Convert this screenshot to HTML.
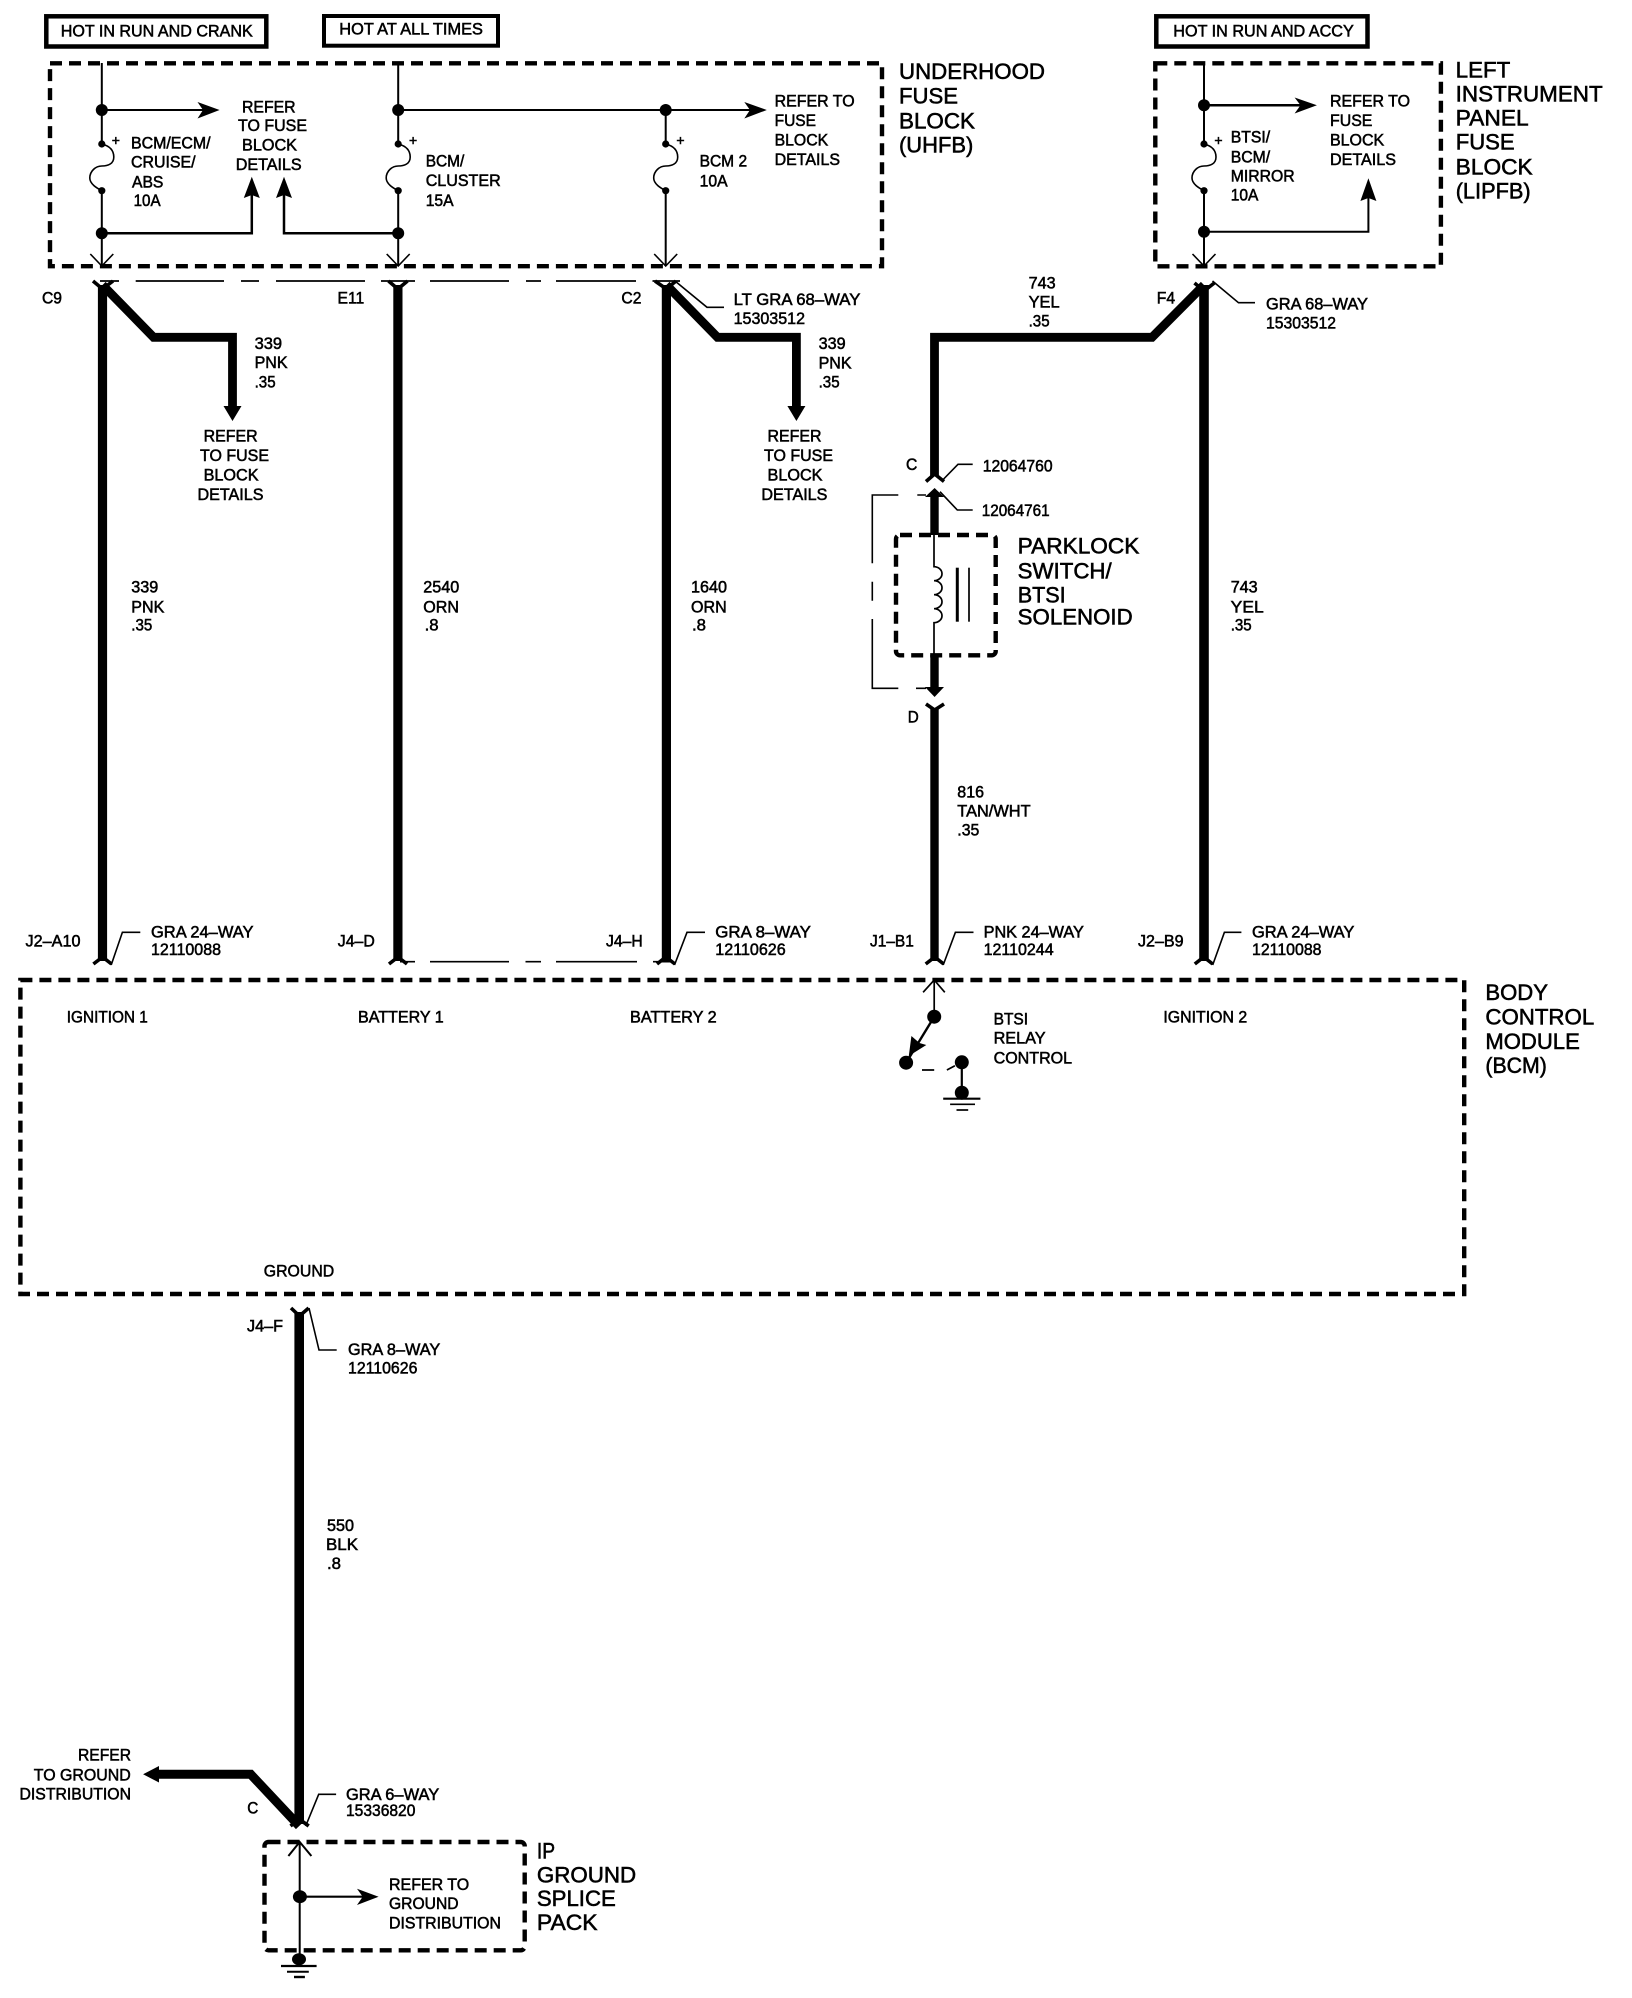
<!DOCTYPE html>
<html><head><meta charset="utf-8"><title>Wiring diagram</title>
<style>
html,body{margin:0;padding:0;background:#fff}
svg{display:block}
text{font-family:"Liberation Sans",sans-serif;fill:#000;stroke:#000;stroke-width:.55px}
.s{font-size:17px}
.l{font-size:22px}
.p{font-size:14px}
</style></head><body>
<svg xmlns="http://www.w3.org/2000/svg" width="1632" height="1998" viewBox="0 0 1632 1998">
<defs>
<g id="fuse"><circle cx="0" cy="144" r="3.6" fill="#000"/><circle cx="0" cy="190.7" r="3.6" fill="#000"/><path d="M0 144C8 146 12 150 12 157C12 164 6 166 0 166C-6 166 -12 171 -12 178C-12 184 -5 188 0 190.7" fill="none" stroke="#000" stroke-width="1.6"/></g>
<path id="chev" d="M-11.5 254L0 266L11.5 254" fill="none" stroke="#000" stroke-width="1.6"/>
</defs>
<rect width="1632" height="1998" fill="#fff"/>

<!-- label boxes -->
<g fill="none" stroke="#000">
<rect x="46.3" y="16.3" width="220" height="30.2" stroke-width="4.5"/>
<rect x="324" y="16" width="174" height="29.7" stroke-width="4"/>
<rect x="1156.3" y="16.3" width="211.2" height="30.2" stroke-width="4.5"/>
<!-- dashed boxes -->
<g stroke-width="4.4" stroke-dasharray="12 7">
<rect x="50" y="63.3" width="832" height="202.9"/>
<rect x="1155.3" y="63.3" width="285.6" height="203"/>
<rect x="896" y="535" width="99.7" height="120.3" rx="4"/>
<rect x="20.4" y="980" width="1443.8" height="314"/>
<rect x="264.5" y="1842" width="260.2" height="108.3" rx="4"/>
</g>
</g>

<!-- UHFB internals -->
<g fill="none" stroke="#000" stroke-width="2">
<path d="M101.8 63V266M398.2 63V266M665.7 110V266M1204 63V266"/>
<path d="M101.8 110H205M398.2 110H755"/>
<path d="M101.8 233.3H251.8V190M398.2 233.3H284V190" stroke-width="2.5"/>
<path d="M1204 105.3H1303" stroke-width="2.5"/>
<path d="M1204 231.7H1368.4V195"/>
</g>
<g fill="#fff" stroke="none">
<rect x="96" y="146" width="12" height="43"/><rect x="392" y="146" width="12" height="43"/><rect x="660" y="146" width="12" height="43"/><rect x="1198" y="146" width="12" height="43"/>
</g>
<use href="#fuse" x="101.8"/><use href="#fuse" x="398.2"/><use href="#fuse" x="665.7"/><use href="#fuse" x="1204"/>
<use href="#chev" x="101.8"/><use href="#chev" x="398.2"/><use href="#chev" x="665.7"/><use href="#chev" x="1204"/>
<g fill="#000">
<circle cx="101.8" cy="110" r="6"/><circle cx="398.2" cy="110" r="6"/><circle cx="665.7" cy="110" r="6"/>
<circle cx="101.8" cy="233.3" r="6"/><circle cx="398.2" cy="233.3" r="6"/>
<circle cx="1204" cy="105.3" r="6"/><circle cx="1204" cy="231.7" r="6"/>
<polygon points="219.6,110 197.5,102 203,110 197.5,118.5"/>
<polygon points="766.8,110 744.3,102 750,110 744.3,118.5"/>
<polygon points="1316.9,105.3 1294.6,97.5 1300.5,105.3 1294.6,113.5"/>
<polygon points="251.8,176.7 243.8,198 251.8,195 259.8,198"/>
<polygon points="284,176.7 276,198 284,195 292,198"/>
<polygon points="1368.4,178.3 1360.4,201 1368.4,198 1376.4,201"/>
</g>

<!-- thin dashed connector lines -->
<path d="M100 281H119M135.7 281H224M241 281H259M276 281H365M381 281H415M430 281H509M526 281H541M556 281H636M652.5 281H680" fill="none" stroke="#000" stroke-width="1.7"/>
<path d="M400 961.7H415M430 961.7H509M525.5 961.7H541M556 961.7H637M653 961.7H670" fill="none" stroke="#000" stroke-width="1.7"/>

<!-- thick wires -->
<g fill="none" stroke="#000" stroke-width="9.2">
<path d="M102.5 285V961M397.9 285V961M666.4 285V961"/>
<path d="M102.5 285L153.6 337.3H232.5V408" stroke-width="8.8"/>
<path d="M666.4 285L717.5 337.3H796.4V408" stroke-width="8.8"/>
<path d="M934.5 476V337.3H1152L1204 285" stroke-width="8.8"/>
<path d="M1204 285V961" stroke-width="9.6"/>
<path d="M934.5 494V535M934.5 655V690M934.5 708V961" stroke-width="8.4"/>
<path d="M299.2 1312V1824" stroke-width="9.6"/>
<path d="M299.2 1826L250.7 1774.3H157" stroke-width="9"/>
</g>
<g fill="#000">
<polygon points="232.5,421 223.5,406 241.5,406"/>
<polygon points="796.4,421 787.4,406 805.4,406"/>
<polygon points="143.1,1774.3 159,1766 159,1782.5"/>
<polygon points="934.6,488 925,497 944,497"/>
<polygon points="934.6,697 925,687 944,687"/>
</g>

<!-- connector terminals -->
<g fill="none" stroke="#000" stroke-width="3.6">
<path d="M93 281L102.5 289L113 281"/>
<path d="M388.5 281L397.9 289L407.5 281"/>
<path d="M655 281L666.4 289L676 281"/>
<path d="M1194.5 283L1204 291L1214.3 283"/>
<path d="M926 481.5L934.6 474L944 481.5"/>
<path d="M926 704L934.6 710L944 704"/>
<path d="M93.4 964L102.6 957L111.5 964"/>
<path d="M389 964L398 957L407 964"/>
<path d="M657 964L665.8 957L675 964"/>
<path d="M925.7 964L934.7 957L943.7 964"/>
<path d="M1194.8 964L1203.7 957L1212.7 964"/>
<path d="M291 1308L299.5 1316L308.7 1308"/>
<path d="M290.5 1826L299.2 1819L308.7 1826"/>
</g>

<!-- leaders -->
<g fill="none" stroke="#000" stroke-width="1.6">
<path d="M675 281L707 307.3H724"/>
<path d="M1212.5 281L1238.5 302.7H1255"/>
<path d="M941.7 481L958 464.3H972.7"/>
<path d="M940 491.7L957.3 510H972.7"/>
<path d="M111.2 965L122.4 932.3H140.3"/>
<path d="M674.5 965L687 932.3H705"/>
<path d="M943.2 965L955.4 932.3H973.5"/>
<path d="M1212.7 965L1224.4 932.3H1241.4"/>
<path d="M309 1308L319 1350H336.7"/>
<path d="M305.7 1826L318.7 1794.3H336.1"/>
<path d="M898.3 495H872.3V563.3M872.3 581.7V600.7M872.3 619V688.3H898.3M917.3 495H926M916 688.3H926"/>
</g>

<!-- solenoid -->
<g fill="none" stroke="#000" stroke-width="1.7">
<path d="M934 535V566.7A8 7 0 0 1 934 580.7A8 7 0 0 1 934 594.7A8 7 0 0 1 934 608.7A8 7 0 0 1 934 622.7V655"/>
<path d="M957.3 567.7V621.7" stroke-width="3"/>
<path d="M969 567.7V621.7"/>
</g>

<!-- BCM relay -->
<g fill="none" stroke="#000" stroke-width="1.7">
<path d="M923.1 992.3L934.2 980L944.8 992.3M934.2 980V1012"/>
<path d="M934.2 1016.7L906.1 1062.7" stroke-width="2.4"/>
<path d="M922 1070H934.2M946.9 1070L954.9 1065.7"/>
<path d="M961.8 1062V1093" stroke-width="2.2"/>
<path d="M943.2 1098.7H980.4" stroke-width="2.2"/>
<path d="M950.1 1104.3H975"/>
<path d="M956.5 1110H968.2"/>
</g>
<g fill="#000">
<circle cx="934.2" cy="1016.7" r="7"/><circle cx="906.1" cy="1062.7" r="7"/>
<circle cx="961.8" cy="1062.3" r="7"/><circle cx="961.8" cy="1092.7" r="7"/>
<polygon points="908.8,1056 911.4,1036 919.5,1043 926.3,1045"/>
</g>

<!-- IP ground -->
<g fill="none" stroke="#000" stroke-width="2">
<path d="M288.4 1856L299.7 1842L311.4 1856M299.7 1842V1955"/>
<path d="M299.9 1896.7H363" stroke-width="2.2"/>
<path d="M281 1966H316.6" stroke-width="2.2"/>
<path d="M287 1971.7H308.8"/>
<path d="M294 1977H304.9" stroke-width="2.4"/>
</g>
<g fill="#000">
<ellipse cx="299.9" cy="1896.7" rx="7" ry="6.5"/>
<ellipse cx="299" cy="1959.3" rx="7" ry="6"/>
<polygon points="378.6,1896.7 357,1888.7 362.7,1896.7 357,1905"/>
</g>

<!-- plus signs -->
<g>
<text class="p" x="111.7" y="145">+</text>
<text class="p" x="409" y="145">+</text>
<text class="p" x="676.4" y="145">+</text>
<text class="p" x="1214.4" y="145">+</text>
</g>

<!-- small text -->
<g class="s">
<text x="60.7" y="36.7" textLength="192" lengthAdjust="spacingAndGlyphs">HOT IN RUN AND CRANK</text>
<text x="339.3" y="34.7" textLength="143.6" lengthAdjust="spacingAndGlyphs">HOT AT ALL TIMES</text>
<text x="1173.3" y="36.7" textLength="180.5" lengthAdjust="spacingAndGlyphs">HOT IN RUN AND ACCY</text>

<text x="131" y="148.7" textLength="79.6" lengthAdjust="spacingAndGlyphs">BCM/ECM/</text>
<text x="131" y="167.7" textLength="64.6" lengthAdjust="spacingAndGlyphs">CRUISE/</text>
<text x="132" y="187.3" textLength="31.4" lengthAdjust="spacingAndGlyphs">ABS</text>
<text x="133.6" y="206" textLength="27" lengthAdjust="spacingAndGlyphs">10A</text>

<text x="242" y="112.7" textLength="53.6" lengthAdjust="spacingAndGlyphs">REFER</text>
<text x="238" y="131" textLength="69" lengthAdjust="spacingAndGlyphs">TO FUSE</text>
<text x="242" y="150.7" textLength="55" lengthAdjust="spacingAndGlyphs">BLOCK</text>
<text x="235.7" y="170" textLength="66" lengthAdjust="spacingAndGlyphs">DETAILS</text>

<text x="425.7" y="166.7" textLength="38.6" lengthAdjust="spacingAndGlyphs">BCM/</text>
<text x="425.7" y="186" textLength="75" lengthAdjust="spacingAndGlyphs">CLUSTER</text>
<text x="425.7" y="206" textLength="27.9" lengthAdjust="spacingAndGlyphs">15A</text>

<text x="699.6" y="166.7" textLength="47.5" lengthAdjust="spacingAndGlyphs">BCM 2</text>
<text x="699.6" y="186.7" textLength="28" lengthAdjust="spacingAndGlyphs">10A</text>

<text x="774.6" y="106.7" textLength="80" lengthAdjust="spacingAndGlyphs">REFER TO</text>
<text x="774.6" y="126" textLength="41.4" lengthAdjust="spacingAndGlyphs">FUSE</text>
<text x="774.6" y="145.3" textLength="53.6" lengthAdjust="spacingAndGlyphs">BLOCK</text>
<text x="774.6" y="165" textLength="65.4" lengthAdjust="spacingAndGlyphs">DETAILS</text>

<text x="1230.7" y="142.7" textLength="39.4" lengthAdjust="spacingAndGlyphs">BTSI/</text>
<text x="1230.7" y="162.3" textLength="39.4" lengthAdjust="spacingAndGlyphs">BCM/</text>
<text x="1230.7" y="181.7" textLength="64" lengthAdjust="spacingAndGlyphs">MIRROR</text>
<text x="1230.7" y="200.7" textLength="27.6" lengthAdjust="spacingAndGlyphs">10A</text>

<text x="1330" y="106.7" textLength="80" lengthAdjust="spacingAndGlyphs">REFER TO</text>
<text x="1330" y="126" textLength="42.4" lengthAdjust="spacingAndGlyphs">FUSE</text>
<text x="1330" y="145.3" textLength="54.2" lengthAdjust="spacingAndGlyphs">BLOCK</text>
<text x="1330" y="165" textLength="66" lengthAdjust="spacingAndGlyphs">DETAILS</text>

<text x="42" y="303.3" textLength="20" lengthAdjust="spacingAndGlyphs">C9</text>
<text x="337.5" y="303.3" textLength="26.8" lengthAdjust="spacingAndGlyphs">E11</text>
<text x="621.4" y="303.3" textLength="20" lengthAdjust="spacingAndGlyphs">C2</text>
<text x="1156.8" y="303.3" textLength="18.3" lengthAdjust="spacingAndGlyphs">F4</text>

<text x="733.6" y="305" textLength="126.8" lengthAdjust="spacingAndGlyphs">LT GRA 68–WAY</text>
<text x="733.6" y="324" textLength="71.4" lengthAdjust="spacingAndGlyphs">15303512</text>
<text x="1266" y="309.3" textLength="102" lengthAdjust="spacingAndGlyphs">GRA 68–WAY</text>
<text x="1266" y="328.3" textLength="70" lengthAdjust="spacingAndGlyphs">15303512</text>

<text x="254.6" y="349" textLength="27.5" lengthAdjust="spacingAndGlyphs">339</text>
<text x="254.6" y="368" textLength="33" lengthAdjust="spacingAndGlyphs">PNK</text>
<text x="254.6" y="387.3" textLength="21" lengthAdjust="spacingAndGlyphs">.35</text>

<text x="818.6" y="349" textLength="27" lengthAdjust="spacingAndGlyphs">339</text>
<text x="818.6" y="368.7" textLength="33" lengthAdjust="spacingAndGlyphs">PNK</text>
<text x="818.6" y="387.3" textLength="21" lengthAdjust="spacingAndGlyphs">.35</text>

<text x="1028.6" y="288.7" textLength="27" lengthAdjust="spacingAndGlyphs">743</text>
<text x="1028.6" y="307.7" textLength="31" lengthAdjust="spacingAndGlyphs">YEL</text>
<text x="1028.6" y="326.7" textLength="21" lengthAdjust="spacingAndGlyphs">.35</text>

<text x="203.6" y="441.7" textLength="54" lengthAdjust="spacingAndGlyphs">REFER</text>
<text x="200" y="461" textLength="69" lengthAdjust="spacingAndGlyphs">TO FUSE</text>
<text x="203.6" y="480.3" textLength="55" lengthAdjust="spacingAndGlyphs">BLOCK</text>
<text x="197.5" y="500" textLength="66" lengthAdjust="spacingAndGlyphs">DETAILS</text>

<text x="767.5" y="441.7" textLength="54" lengthAdjust="spacingAndGlyphs">REFER</text>
<text x="764" y="461" textLength="69" lengthAdjust="spacingAndGlyphs">TO FUSE</text>
<text x="767.5" y="480.3" textLength="55" lengthAdjust="spacingAndGlyphs">BLOCK</text>
<text x="761.4" y="500" textLength="66" lengthAdjust="spacingAndGlyphs">DETAILS</text>

<text x="906" y="470" textLength="11.3" lengthAdjust="spacingAndGlyphs">C</text>
<text x="982.7" y="471.7" textLength="70" lengthAdjust="spacingAndGlyphs">12064760</text>
<text x="981.7" y="516" textLength="68" lengthAdjust="spacingAndGlyphs">12064761</text>
<text x="907.7" y="722.7" textLength="11" lengthAdjust="spacingAndGlyphs">D</text>

<text x="131.3" y="592.7" textLength="27" lengthAdjust="spacingAndGlyphs">339</text>
<text x="131.3" y="612.3" textLength="33" lengthAdjust="spacingAndGlyphs">PNK</text>
<text x="131.3" y="630.7" textLength="21" lengthAdjust="spacingAndGlyphs">.35</text>
<text x="423.3" y="592.7" textLength="36" lengthAdjust="spacingAndGlyphs">2540</text>
<text x="423.3" y="612.3" textLength="35.7" lengthAdjust="spacingAndGlyphs">ORN</text>
<text x="424.6" y="630.7" textLength="14" lengthAdjust="spacingAndGlyphs">.8</text>
<text x="691" y="592.7" textLength="36" lengthAdjust="spacingAndGlyphs">1640</text>
<text x="691" y="612.3" textLength="35.7" lengthAdjust="spacingAndGlyphs">ORN</text>
<text x="692" y="630.7" textLength="14" lengthAdjust="spacingAndGlyphs">.8</text>
<text x="1230.7" y="592.7" textLength="27" lengthAdjust="spacingAndGlyphs">743</text>
<text x="1230.7" y="612.3" textLength="33" lengthAdjust="spacingAndGlyphs">YEL</text>
<text x="1230.7" y="630.7" textLength="21" lengthAdjust="spacingAndGlyphs">.35</text>

<text x="957.3" y="797.3" textLength="26.7" lengthAdjust="spacingAndGlyphs">816</text>
<text x="957.3" y="816.7" textLength="73.3" lengthAdjust="spacingAndGlyphs">TAN/WHT</text>
<text x="957.3" y="835.7" textLength="22" lengthAdjust="spacingAndGlyphs">.35</text>

<text x="25.5" y="946.7" textLength="55" lengthAdjust="spacingAndGlyphs">J2–A10</text>
<text x="337.8" y="946.7" textLength="37" lengthAdjust="spacingAndGlyphs">J4–D</text>
<text x="606" y="946.7" textLength="36.7" lengthAdjust="spacingAndGlyphs">J4–H</text>
<text x="870" y="946.7" textLength="43.8" lengthAdjust="spacingAndGlyphs">J1–B1</text>
<text x="1138" y="946.7" textLength="45.6" lengthAdjust="spacingAndGlyphs">J2–B9</text>

<text x="151" y="937.7" textLength="102.5" lengthAdjust="spacingAndGlyphs">GRA 24–WAY</text>
<text x="151" y="955" textLength="70" lengthAdjust="spacingAndGlyphs">12110088</text>
<text x="715.3" y="937.7" textLength="95.6" lengthAdjust="spacingAndGlyphs">GRA 8–WAY</text>
<text x="715.3" y="955" textLength="70.4" lengthAdjust="spacingAndGlyphs">12110626</text>
<text x="983.6" y="937.7" textLength="100.3" lengthAdjust="spacingAndGlyphs">PNK 24–WAY</text>
<text x="983.6" y="955" textLength="70" lengthAdjust="spacingAndGlyphs">12110244</text>
<text x="1252" y="937.7" textLength="102.4" lengthAdjust="spacingAndGlyphs">GRA 24–WAY</text>
<text x="1252" y="955" textLength="69.5" lengthAdjust="spacingAndGlyphs">12110088</text>

<text x="66.8" y="1022.7" textLength="81" lengthAdjust="spacingAndGlyphs">IGNITION 1</text>
<text x="358" y="1022.7" textLength="85.7" lengthAdjust="spacingAndGlyphs">BATTERY 1</text>
<text x="630" y="1022.7" textLength="86.7" lengthAdjust="spacingAndGlyphs">BATTERY 2</text>
<text x="1163.4" y="1022.7" textLength="83.8" lengthAdjust="spacingAndGlyphs">IGNITION 2</text>
<text x="993.6" y="1024.3" textLength="34.5" lengthAdjust="spacingAndGlyphs">BTSI</text>
<text x="993.6" y="1043.3" textLength="52" lengthAdjust="spacingAndGlyphs">RELAY</text>
<text x="993.6" y="1063.3" textLength="78.5" lengthAdjust="spacingAndGlyphs">CONTROL</text>
<text x="263.8" y="1276.7" textLength="70.4" lengthAdjust="spacingAndGlyphs">GROUND</text>

<text x="247" y="1331.7" textLength="36" lengthAdjust="spacingAndGlyphs">J4–F</text>
<text x="348" y="1355" textLength="92.3" lengthAdjust="spacingAndGlyphs">GRA 8–WAY</text>
<text x="348" y="1373.3" textLength="69.4" lengthAdjust="spacingAndGlyphs">12110626</text>

<text x="327" y="1531" textLength="27" lengthAdjust="spacingAndGlyphs">550</text>
<text x="326" y="1550" textLength="32" lengthAdjust="spacingAndGlyphs">BLK</text>
<text x="327" y="1569" textLength="14" lengthAdjust="spacingAndGlyphs">.8</text>

<text x="78" y="1760.7" textLength="53" lengthAdjust="spacingAndGlyphs">REFER</text>
<text x="33.8" y="1780.7" textLength="97" lengthAdjust="spacingAndGlyphs">TO GROUND</text>
<text x="19.5" y="1799.3" textLength="111.5" lengthAdjust="spacingAndGlyphs">DISTRIBUTION</text>
<text x="247.2" y="1813.3" textLength="11" lengthAdjust="spacingAndGlyphs">C</text>
<text x="346" y="1800" textLength="93.2" lengthAdjust="spacingAndGlyphs">GRA 6–WAY</text>
<text x="346" y="1816" textLength="69.4" lengthAdjust="spacingAndGlyphs">15336820</text>
<text x="389" y="1890" textLength="80.2" lengthAdjust="spacingAndGlyphs">REFER TO</text>
<text x="389" y="1909" textLength="69.6" lengthAdjust="spacingAndGlyphs">GROUND</text>
<text x="389" y="1928.3" textLength="112" lengthAdjust="spacingAndGlyphs">DISTRIBUTION</text>
</g>

<!-- large text -->
<g class="l">
<text x="899" y="79" textLength="146" lengthAdjust="spacingAndGlyphs">UNDERHOOD</text>
<text x="899" y="103.3" textLength="59" lengthAdjust="spacingAndGlyphs">FUSE</text>
<text x="899" y="128.3" textLength="76" lengthAdjust="spacingAndGlyphs">BLOCK</text>
<text x="899" y="152.7" textLength="74.3" lengthAdjust="spacingAndGlyphs">(UHFB)</text>

<text x="1455.7" y="77.3" textLength="54.6" lengthAdjust="spacingAndGlyphs">LEFT</text>
<text x="1455.7" y="101.7" textLength="147" lengthAdjust="spacingAndGlyphs">INSTRUMENT</text>
<text x="1455.7" y="125.7" textLength="73" lengthAdjust="spacingAndGlyphs">PANEL</text>
<text x="1455.7" y="149.3" textLength="59" lengthAdjust="spacingAndGlyphs">FUSE</text>
<text x="1455.7" y="174.3" textLength="77" lengthAdjust="spacingAndGlyphs">BLOCK</text>
<text x="1455.7" y="198.3" textLength="75" lengthAdjust="spacingAndGlyphs">(LIPFB)</text>

<text x="1017.7" y="553.3" textLength="121.7" lengthAdjust="spacingAndGlyphs">PARKLOCK</text>
<text x="1017.7" y="578.3" textLength="94" lengthAdjust="spacingAndGlyphs">SWITCH/</text>
<text x="1017.7" y="602.3" textLength="48" lengthAdjust="spacingAndGlyphs">BTSI</text>
<text x="1017.7" y="624.3" textLength="115" lengthAdjust="spacingAndGlyphs">SOLENOID</text>

<text x="1485.4" y="1000" textLength="62.6" lengthAdjust="spacingAndGlyphs">BODY</text>
<text x="1485.4" y="1024.3" textLength="108.8" lengthAdjust="spacingAndGlyphs">CONTROL</text>
<text x="1485.4" y="1049" textLength="94.4" lengthAdjust="spacingAndGlyphs">MODULE</text>
<text x="1485.4" y="1073" textLength="61.5" lengthAdjust="spacingAndGlyphs">(BCM)</text>

<text x="536.9" y="1858.3" textLength="18.2" lengthAdjust="spacingAndGlyphs">IP</text>
<text x="536.9" y="1882.3" textLength="99.3" lengthAdjust="spacingAndGlyphs">GROUND</text>
<text x="536.9" y="1906" textLength="78.9" lengthAdjust="spacingAndGlyphs">SPLICE</text>
<text x="536.9" y="1930" textLength="60.7" lengthAdjust="spacingAndGlyphs">PACK</text>
</g>
</svg>
</body></html>
